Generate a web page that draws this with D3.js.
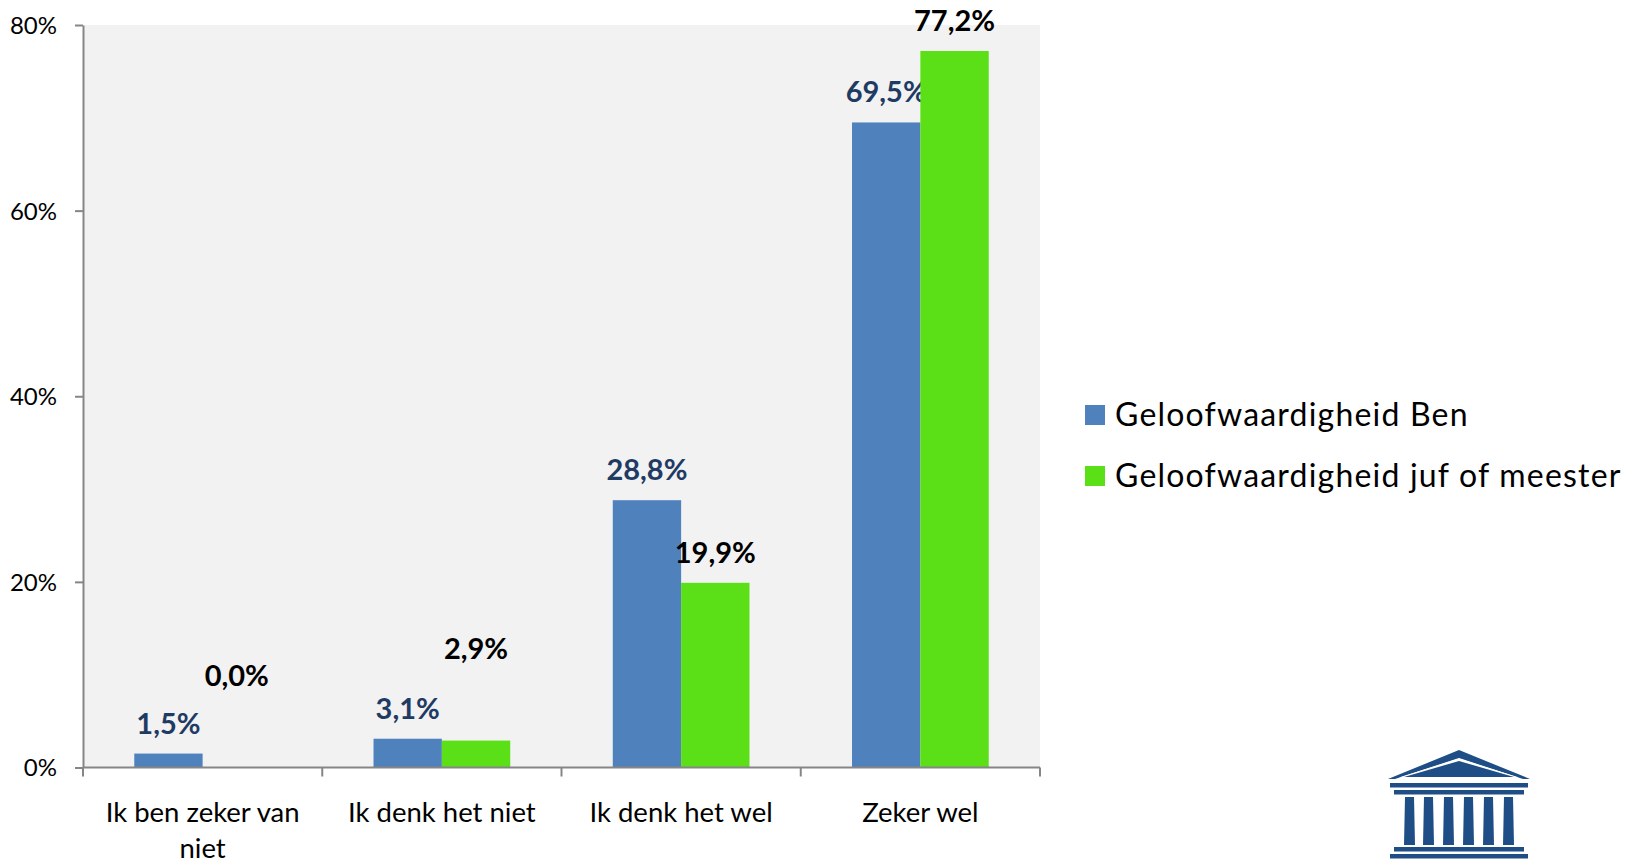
<!DOCTYPE html>
<html><head><meta charset="utf-8">
<script src="https://cdn.jsdelivr.net/npm/d3@7"></script>
<style>html,body{margin:0;padding:0;background:#fff;}svg{display:block;font-family:Lato,"Open Sans",sans-serif;}</style>
</head><body>
<svg id="chart" width="1633" height="860"></svg>
<script>
const categories = ["Ik ben zeker van niet", "Ik denk het niet", "Ik denk het wel", "Zeker wel"];
const categoryLines = [["Ik ben zeker van", "niet"], ["Ik denk het niet"], ["Ik denk het wel"], ["Zeker wel"]];
const seriesNames = ["Geloofwaardigheid Ben", "Geloofwaardigheid juf of meester"];
const benValues = [1.5, 3.1, 28.8, 69.5];
const jufValues = [0.0, 2.9, 19.9, 77.2];
const yTicks = [0, 20, 40, 60, 80];

const colors = ["#4F81BD", "#5BDF17"];
const labelColors = ["#1F3B63", "#000000"];
// manual label lifts from the original (small green labels moved up)
const labelLift = [[0, 0, 0, 0], [62, 62, 0, 0]];

const svg = d3.select("#chart");
const L = 83, R = 1040, T = 25, B = 767.5;
const fmt = v => v.toFixed(1).replace(".", ",") + "%";

const y = d3.scaleLinear().domain([0, 80]).range([B, T]);
const x0 = d3.scaleBand().domain(categories).range([L, R]).padding(0);
const x1 = d3.scaleBand().domain(seriesNames).range([0, x0.bandwidth()]).paddingInner(0).paddingOuter(0.75);

svg.append("rect").attr("x", L).attr("y", T).attr("width", R - L).attr("height", B - T).attr("fill", "#F2F2F2");

const series = [benValues, jufValues];
series.forEach((vals, si) => {
  const g = svg.append("g");
  g.selectAll("rect").data(vals).join("rect")
    .attr("x", (d, i) => x0(categories[i]) + x1(seriesNames[si]))
    .attr("y", d => y(d))
    .attr("width", x1.bandwidth())
    .attr("height", d => B - y(d))
    .attr("fill", colors[si]);
  g.selectAll("text").data(vals).join("text")
    .attr("x", (d, i) => x0(categories[i]) + x1(seriesNames[si]) + x1.bandwidth() / 2)
    .attr("y", (d, i) => y(d) - 20 - labelLift[si][i])
    .attr("text-anchor", "middle")
    .attr("font-size", 29).attr("font-weight", "bold")
    .attr("fill", labelColors[si])
    .text(d => fmt(d));
});

// Y axis
const yAxis = d3.axisLeft(y).tickValues(yTicks).tickFormat(d => d + "%").tickSize(8).tickSizeOuter(0);
const ya = svg.append("g").attr("transform", `translate(${L},0)`).call(yAxis);
ya.select(".domain").attr("stroke", "#868686").attr("stroke-width", 2);
ya.selectAll(".tick line").attr("stroke", "#868686").attr("stroke-width", 2);
ya.selectAll(".tick text").attr("font-size", 24).attr("font-family", "Lato").attr("fill", "#000").attr("x", -26).attr("dy", "0.35em");

// X axis
const xa = svg.append("g").attr("transform", `translate(0,${B})`);
xa.append("line").attr("x1", L).attr("x2", R).attr("stroke", "#868686").attr("stroke-width", 2);
const bounds = categories.map(c => x0(c)).concat([R]);
xa.selectAll("line.tk").data(bounds).join("line").attr("class", "tk")
  .attr("x1", d => d).attr("x2", d => d).attr("y1", 0).attr("y2", 9)
  .attr("stroke", "#868686").attr("stroke-width", 2);
categories.forEach((c, i) => {
  const t = xa.append("text").attr("x", x0(c) + x0.bandwidth() / 2).attr("y", 54)
    .attr("text-anchor", "middle").attr("font-size", 27.5).attr("fill", "#000");
  categoryLines[i].forEach((ln, j) => t.append("tspan").attr("x", x0(c) + x0.bandwidth() / 2).attr("dy", j === 0 ? 0 : 36).text(ln));
});

// Legend
const lg = svg.append("g");
seriesNames.forEach((s, i) => {
  const yy = 414.5 + i * 61;
  lg.append("rect").attr("x", 1085).attr("y", yy - 9.5).attr("width", 20).attr("height", 20).attr("fill", colors[i]);
  lg.append("text").attr("x", 1115).attr("y", yy).attr("dy", "0.36em").attr("font-size", 32)
    .attr("letter-spacing", 1.2).attr("fill", "#000").text(s);
});

// Logo (temple icon)
const logo = svg.append("g").attr("fill", "#1F4E87");
logo.append("path").attr("d", "M1459,750 L1530,779 L1388,779 Z M1459,758 L1395,779 L1523,779 Z").attr("fill-rule", "evenodd");
logo.append("path").attr("d", "M1459,758.5 L1399,777.5 L1519,777.5 Z").attr("fill", "#fff");
logo.append("path").attr("d", "M1459,761 L1404,777 L1514,777 Z");
logo.append("rect").attr("x", 1390).attr("y", 783).attr("width", 138).attr("height", 4.5);
logo.append("rect").attr("x", 1394).attr("y", 790).attr("width", 130).attr("height", 4.5);
[1405, 1424, 1444, 1464, 1484, 1504].forEach(cx => {
  logo.append("path").attr("d", `M${cx},797 L${cx + 9},797 L${cx + 10},845 L${cx - 1},845 Z`);
});
logo.append("rect").attr("x", 1394).attr("y", 847).attr("width", 130).attr("height", 4.5);
logo.append("rect").attr("x", 1390).attr("y", 854).attr("width", 138).attr("height", 4.5);
</script>
</body></html>
